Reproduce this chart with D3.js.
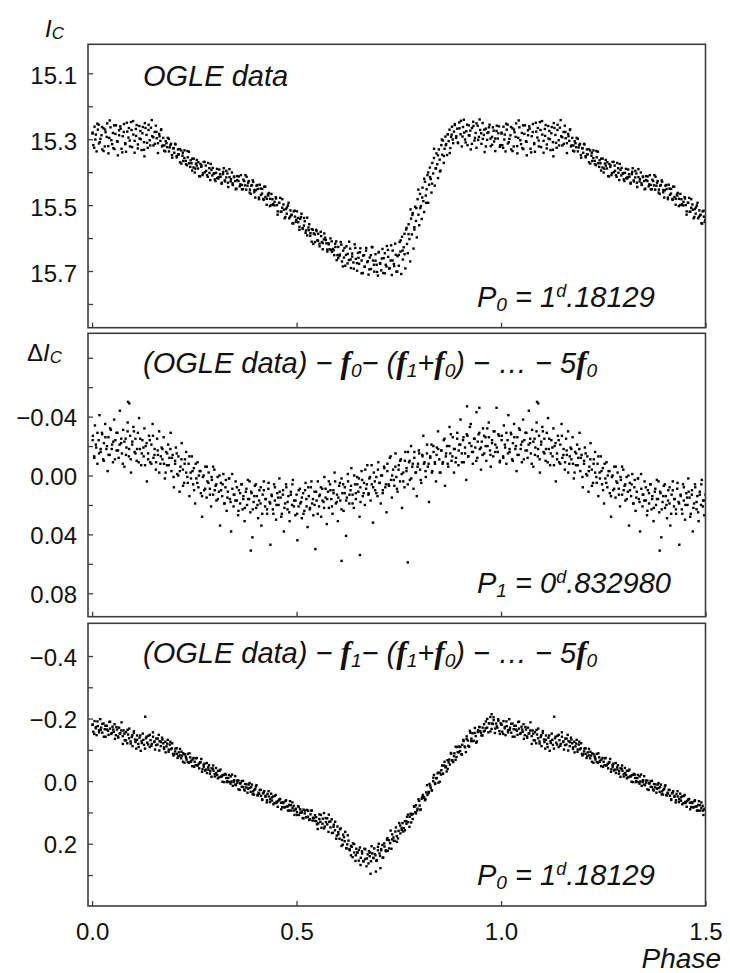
<!DOCTYPE html>
<html>
<head>
<meta charset="utf-8">

<style>
    body { margin: 0; background: #fff; }
    svg text { font-family: "Liberation Sans", Arial, sans-serif; fill: #111; white-space: pre; }
    rect.frame { fill: none; stroke: #3c3c3c; stroke-width: 1.6px; }
    .axis line { stroke: #3c3c3c; stroke-width: 1.3px; }
    rect.dot { fill: #000; }
</style>

<script src="https://d3js.org/d3.v7.min.js"></script>

</head>
<body>

<script>

    // OGLE I-band light curve folded with P0, [phase, mag]
    var ogleData = [
      [0.001,15.283],[0.003,15.318],[0.006,15.262],[0.008,15.301],[0.011,15.337],[0.014,15.271],[0.016,15.256],[0.019,15.309],[0.023,15.288],[0.025,15.331],
      [0.028,15.267],[0.031,15.322],[0.033,15.279],[0.037,15.252],[0.040,15.343],[0.042,15.296],[0.045,15.264],[0.049,15.315],[0.052,15.327],[0.054,15.258],
      [0.057,15.284],[0.061,15.306],[0.063,15.349],[0.066,15.273],[0.069,15.261],[0.072,15.329],[0.075,15.291],[0.078,15.254],[0.081,15.312],[0.083,15.338],
      [0.086,15.277],[0.090,15.266],[0.092,15.304],[0.095,15.248],[0.098,15.324],[0.101,15.286],[0.104,15.341],[0.107,15.269],[0.109,15.257],[0.112,15.316],
      [0.116,15.298],[0.118,15.275],[0.121,15.333],[0.124,15.263],[0.127,15.309],[0.128,15.352],[0.129,15.251],[0.133,15.287],[0.136,15.326],[0.138,15.272],
      [0.141,15.303],[0.144,15.265],[0.147,15.291],[0.150,15.319],[0.153,15.278],[0.156,15.259],[0.158,15.297],[0.161,15.312],[0.164,15.284],[0.167,15.305],
      [0.169,15.270],[0.171,15.322],[0.174,15.296],[0.177,15.319],[0.179,15.337],[0.182,15.312],[0.185,15.296],[0.188,15.337],[0.190,15.325],[0.193,15.314],
      [0.196,15.356],[0.199,15.327],[0.201,15.341],[0.204,15.316],[0.207,15.355],[0.210,15.331],[0.212,15.346],[0.215,15.370],[0.218,15.334],[0.221,15.350],
      [0.223,15.366],[0.226,15.334],[0.229,15.366],[0.232,15.379],[0.234,15.355],[0.237,15.338],[0.240,15.384],[0.243,15.373],[0.245,15.359],[0.248,15.386],
      [0.251,15.401],[0.254,15.374],[0.256,15.363],[0.259,15.389],[0.262,15.412],[0.265,15.375],[0.267,15.384],[0.270,15.409],[0.273,15.369],[0.276,15.400],
      [0.278,15.380],[0.281,15.409],[0.284,15.372],[0.287,15.402],[0.289,15.424],[0.292,15.393],[0.295,15.387],[0.298,15.404],[0.300,15.422],[0.303,15.402],
      [0.306,15.418],[0.309,15.419],[0.311,15.392],[0.314,15.414],[0.317,15.432],[0.320,15.406],[0.322,15.388],[0.325,15.428],[0.328,15.416],[0.331,15.404],
      [0.333,15.445],[0.336,15.415],[0.339,15.428],[0.342,15.401],[0.344,15.439],[0.347,15.413],[0.350,15.427],[0.353,15.450],[0.355,15.412],[0.358,15.427],
      [0.361,15.443],[0.364,15.409],[0.366,15.439],[0.369,15.452],[0.372,15.427],[0.375,15.409],[0.377,15.453],[0.380,15.441],[0.383,15.427],[0.386,15.453],
      [0.388,15.466],[0.391,15.439],[0.394,15.429],[0.397,15.454],[0.399,15.477],[0.402,15.441],[0.405,15.451],[0.408,15.477],[0.410,15.438],[0.413,15.469],
      [0.416,15.451],[0.419,15.481],[0.421,15.444],[0.424,15.475],[0.427,15.499],[0.430,15.468],[0.432,15.463],[0.435,15.481],[0.438,15.500],[0.441,15.482],
      [0.443,15.499],[0.446,15.501],[0.449,15.476],[0.452,15.500],[0.454,15.519],[0.457,15.493],[0.460,15.478],[0.463,15.520],[0.465,15.508],[0.468,15.498],
      [0.471,15.540],[0.474,15.512],[0.476,15.526],[0.479,15.501],[0.482,15.540],[0.485,15.516],[0.487,15.531],[0.490,15.555],[0.493,15.519],[0.496,15.535],
      [0.498,15.551],[0.501,15.519],[0.504,15.552],[0.507,15.566],[0.509,15.542],[0.512,15.526],[0.515,15.572],[0.518,15.562],[0.520,15.549],[0.523,15.577],
      [0.526,15.592],[0.529,15.568],[0.531,15.558],[0.534,15.585],[0.537,15.611],[0.540,15.575],[0.542,15.586],[0.545,15.612],[0.548,15.575],[0.551,15.607],
      [0.553,15.587],[0.556,15.617],[0.559,15.581],[0.562,15.612],[0.564,15.634],[0.567,15.604],[0.570,15.599],[0.573,15.616],[0.575,15.635],[0.578,15.616],
      [0.581,15.634],[0.584,15.636],[0.586,15.610],[0.589,15.633],[0.592,15.652],[0.595,15.627],[0.597,15.610],[0.600,15.652],[0.602,15.627],[0.605,15.654],
      [0.608,15.612],[0.611,15.671],[0.614,15.638],[0.616,15.659],[0.619,15.684],[0.622,15.625],[0.625,15.648],[0.628,15.667],[0.631,15.632],[0.633,15.691],
      [0.636,15.656],[0.639,15.674],[0.642,15.619],[0.645,15.663],[0.648,15.699],[0.650,15.645],[0.653,15.678],[0.656,15.631],[0.659,15.668],[0.662,15.706],
      [0.665,15.652],[0.667,15.687],[0.670,15.638],[0.673,15.673],[0.676,15.711],[0.679,15.659],[0.682,15.694],[0.684,15.627],[0.687,15.668],[0.690,15.702],
      [0.693,15.649],[0.696,15.681],[0.699,15.714],[0.701,15.642],[0.704,15.676],[0.707,15.698],[0.710,15.633],[0.713,15.661],[0.716,15.707],[0.718,15.681],
      [0.721,15.624],[0.724,15.657],[0.727,15.693],[0.730,15.668],[0.733,15.712],[0.735,15.638],[0.738,15.679],[0.741,15.617],[0.744,15.702],[0.747,15.655],
      [0.750,15.684],[0.752,15.612],[0.754,15.641],[0.756,15.709],[0.758,15.596],[0.760,15.665],[0.762,15.628],[0.764,15.587],[0.766,15.692],[0.768,15.574],
      [0.770,15.618],[0.772,15.646],[0.774,15.558],[0.776,15.603],[0.778,15.671],[0.780,15.541],[0.782,15.589],[0.784,15.524],[0.786,15.632],[0.788,15.567],
      [0.790,15.505],[0.792,15.548],[0.794,15.598],[0.796,15.482],[0.798,15.529],[0.800,15.561],[0.802,15.466],[0.804,15.503],[0.806,15.542],[0.808,15.447],
      [0.810,15.488],[0.812,15.521],[0.814,15.429],[0.816,15.471],[0.818,15.452],[0.820,15.409],[0.822,15.493],[0.824,15.438],[0.826,15.386],[0.828,15.421],
      [0.830,15.462],[0.832,15.372],[0.834,15.404],[0.836,15.357],[0.838,15.441],[0.840,15.389],[0.842,15.343],[0.844,15.376],[0.846,15.418],[0.848,15.331],
      [0.850,15.362],[0.852,15.395],[0.854,15.318],[0.856,15.347],[0.858,15.304],[0.860,15.372],[0.862,15.329],[0.864,15.292],[0.866,15.315],[0.868,15.348],
      [0.870,15.285],[0.872,15.306],[0.874,15.271],[0.876,15.327],[0.878,15.293],[0.880,15.262],[0.882,15.301],[0.885,15.277],[0.887,15.254],[0.890,15.296],
      [0.893,15.268],[0.895,15.312],[0.898,15.249],[0.901,15.285],[0.904,15.322],[0.907,15.263],[0.909,15.241],[0.912,15.301],[0.915,15.276],[0.918,15.318],
      [0.921,15.258],[0.923,15.289],[0.926,15.331],[0.929,15.266],[0.932,15.247],[0.935,15.304],[0.938,15.281],[0.940,15.326],[0.943,15.259],[0.946,15.293],
      [0.949,15.272],[0.952,15.314],[0.955,15.251],[0.958,15.287],[0.960,15.339],[0.963,15.268],[0.966,15.302],[0.969,15.279],[0.972,15.256],[0.975,15.321],
      [0.978,15.293],[0.980,15.264],[0.983,15.307],[0.986,15.336],[0.989,15.275],[0.992,15.298],[0.995,15.261],[0.998,15.318]
    ];

    // second OGLE season, same fold
    var ogleMore = [
      [0.0015,15.280],[0.0052,15.326],[0.0091,15.286],[0.0128,15.253],[0.0167,15.313],[0.0204,15.299],[0.0243,15.263],[0.0281,15.336],[0.0318,15.271],[0.0357,15.293],
      [0.0395,15.321],[0.0432,15.243],[0.0471,15.303],[0.0509,15.281],[0.0546,15.330],[0.0585,15.258],[0.0623,15.308],[0.0661,15.288],[0.0698,15.268],[0.0737,15.340],
      [0.0775,15.278],[0.0812,15.315],[0.0851,15.250],[0.0889,15.295],[0.0926,15.322],[0.0965,15.272],[0.1003,15.245],[0.1041,15.305],[0.1078,15.290],[0.1117,15.328],
      [0.1155,15.260],[0.1192,15.300],[0.1231,15.282],[0.1269,15.332],[0.1306,15.266],[0.1345,15.311],[0.1383,15.256],[0.1421,15.319],[0.1458,15.242],[0.1497,15.294],
      [0.1535,15.314],[0.1572,15.278],[0.1611,15.342],[0.1649,15.291],[0.1686,15.272],[0.1725,15.319],[0.1763,15.335],[0.1802,15.306],[0.1839,15.324],[0.1877,15.299],
      [0.1916,15.318],[0.1953,15.348],[0.1991,15.328],[0.2029,15.314],[0.2068,15.351],[0.2105,15.346],[0.2143,15.330],[0.2182,15.374],[0.2219,15.341],[0.2257,15.357],
      [0.2296,15.376],[0.2333,15.336],[0.2371,15.373],[0.2410,15.364],[0.2447,15.395],[0.2485,15.359],[0.2524,15.389],[0.2561,15.380],[0.2599,15.370],[0.2638,15.413],
      [0.2675,15.380],[0.2713,15.403],[0.2752,15.369],[0.2789,15.396],[0.2827,15.414],[0.2866,15.388],[0.2903,15.375],[0.2941,15.410],[0.2980,15.404],[0.3017,15.427],
      [0.3055,15.390],[0.3094,15.415],[0.3131,15.406],[0.3169,15.435],[0.3208,15.399],[0.3245,15.425],[0.3283,15.396],[0.3322,15.432],[0.3359,15.391],[0.3397,15.421],
      [0.3436,15.434],[0.3473,15.415],[0.3511,15.452],[0.3550,15.424],[0.3587,15.413],[0.3625,15.437],[0.3664,15.452],[0.3701,15.423],[0.3739,15.440],[0.3778,15.414],
      [0.3815,15.432],[0.3853,15.462],[0.3892,15.441],[0.3929,15.425],[0.3967,15.461],[0.4006,15.455],[0.4043,15.439],[0.4081,15.482],[0.4120,15.450],[0.4157,15.465],
      [0.4195,15.484],[0.4234,15.444],[0.4271,15.481],[0.4309,15.471],[0.4348,15.503],[0.4385,15.466],[0.4423,15.497],[0.4462,15.490],[0.4499,15.480],[0.4537,15.529],
      [0.4576,15.493],[0.4613,15.520],[0.4651,15.482],[0.4690,15.514],[0.4727,15.536],[0.4765,15.507],[0.4804,15.493],[0.4841,15.535],[0.4879,15.529],[0.4918,15.556],
      [0.4955,15.517],[0.4993,15.545],[0.5032,15.539],[0.5069,15.575],[0.5107,15.536],[0.5146,15.570],[0.5183,15.539],[0.5221,15.584],[0.5260,15.538],[0.5297,15.576],
      [0.5335,15.593],[0.5374,15.573],[0.5411,15.618],[0.5449,15.589],[0.5488,15.579],[0.5525,15.608],[0.5563,15.625],[0.5602,15.594],[0.5639,15.615],[0.5677,15.586],
      [0.5716,15.606],[0.5753,15.641],[0.5791,15.619],[0.5830,15.601],[0.5867,15.642],[0.5905,15.637],[0.5944,15.617],[0.5981,15.667],[0.6019,15.661],[0.6058,15.650],
      [0.6095,15.620],[0.6133,15.686],[0.6172,15.630],[0.6209,15.651],[0.6247,15.677],[0.6286,15.611],[0.6323,15.665],[0.6361,15.647],[0.6400,15.693],[0.6437,15.630],
      [0.6475,15.676],[0.6514,15.660],[0.6551,15.643],[0.6589,15.707],[0.6628,15.653],[0.6665,15.687],[0.6703,15.630],[0.6742,15.670],[0.6779,15.695],[0.6817,15.652],
      [0.6856,15.628],[0.6893,15.681],[0.6931,15.669],[0.6970,15.703],[0.7007,15.644],[0.7045,15.678],[0.7084,15.662],[0.7121,15.706],[0.7159,15.646],[0.7198,15.686],
      [0.7235,15.636],[0.7273,15.691],[0.7312,15.622],[0.7349,15.668],[0.7387,15.685],[0.7426,15.651],[0.7463,15.702],[0.7501,15.651],[0.7545,15.607],[0.7593,15.638],
      [0.7642,15.649],[0.7689,15.569],[0.7738,15.588],[0.7786,15.513],[0.7833,15.530],[0.7882,15.574],[0.7929,15.509],[0.7978,15.453],[0.8026,15.509],[0.8073,15.477],
      [0.8122,15.420],[0.8169,15.493],[0.8218,15.401],[0.8266,15.415],[0.8313,15.435],[0.8362,15.329],[0.8409,15.388],[0.8458,15.349],[0.8506,15.398],[0.8553,15.301],
      [0.8602,15.351],[0.8649,15.318],[0.8698,15.285],[0.8746,15.342],[0.8793,15.286],[0.8831,15.312],[0.8870,15.257],[0.8907,15.291],[0.8945,15.310],[0.8984,15.267],
      [0.9021,15.244],[0.9059,15.292],[0.9098,15.280],[0.9135,15.310],[0.9173,15.256],[0.9212,15.288],[0.9249,15.274],[0.9287,15.314],[0.9326,15.260],[0.9363,15.296],
      [0.9401,15.252],[0.9440,15.302],[0.9477,15.240],[0.9515,15.282],[0.9554,15.299],[0.9591,15.271],[0.9629,15.322],[0.9668,15.281],[0.9705,15.264],[0.9743,15.298],
      [0.9782,15.317],[0.9819,15.274],[0.9857,15.298],[0.9896,15.259],[0.9933,15.282],[0.9971,15.323]
    ];

    // residuals after removing f0 and combinations, folded with P1, [phase, dI]
    var resid1Data = [
      [0.002,-0.027],[0.005,-0.013],[0.007,-0.034],[0.010,-0.019],[0.013,-0.008],[0.016,-0.024],[0.018,-0.041],[0.021,-0.016],[0.024,-0.029],[0.027,-0.011],
      [0.029,-0.022],[0.032,-0.035],[0.035,-0.018],[0.038,-0.003],[0.040,-0.026],[0.043,-0.014],[0.046,-0.031],[0.049,-0.021],[0.051,-0.009],[0.054,-0.038],
      [0.057,-0.024],[0.060,-0.017],[0.062,-0.029],[0.065,-0.012],[0.068,-0.044],[0.071,-0.022],[0.073,-0.015],[0.076,-0.031],[0.079,-0.006],[0.082,-0.025],
      [0.084,-0.019],[0.087,-0.036],[0.088,-0.050],[0.090,-0.013],[0.091,-0.049],[0.093,-0.027],[0.095,-0.002],[0.098,-0.021],[0.101,-0.033],[0.104,-0.016],
      [0.106,-0.025],[0.109,-0.010],[0.112,-0.029],[0.115,-0.039],[0.117,-0.018],[0.120,-0.007],[0.123,-0.024],[0.126,-0.013],[0.128,-0.032],[0.131,-0.020],
      [0.134,0.004],[0.137,-0.015],[0.139,-0.027],[0.142,-0.009],[0.145,-0.021],[0.148,-0.035],[0.150,-0.012],[0.153,-0.018],[0.156,-0.004],[0.159,-0.025],
      [0.161,-0.014],[0.164,-0.030],[0.167,-0.008],[0.170,-0.019],[0.172,-0.011],[0.175,-0.026],[0.178,0.002],[0.181,-0.016],[0.183,-0.007],[0.186,-0.021],
      [0.189,-0.012],[0.192,-0.029],[0.194,-0.003],[0.197,-0.014],[0.200,0.008],[0.203,-0.010],[0.205,-0.019],[0.208,-0.001],[0.211,-0.013],[0.214,0.011],
      [0.216,-0.006],[0.219,-0.022],[0.222,-0.004],[0.225,0.005],[0.227,-0.011],[0.230,-0.016],[0.233,0.001],[0.236,-0.008],[0.238,0.014],[0.241,-0.002],
      [0.244,-0.013],[0.247,0.006],[0.249,-0.005],[0.252,0.019],[0.255,0.002],[0.258,-0.009],[0.260,0.008],[0.263,-0.003],[0.266,0.012],[0.269,0.028],
      [0.271,0.001],[0.274,0.010],[0.277,-0.006],[0.280,0.015],[0.282,0.004],[0.285,-0.002],[0.288,0.009],[0.291,0.021],[0.293,0.003],[0.296,0.013],
      [0.299,-0.004],[0.302,0.007],[0.304,0.017],[0.307,0.001],[0.310,0.011],[0.313,0.034],[0.315,0.005],[0.318,0.014],[0.321,-0.001],[0.324,0.019],
      [0.326,0.008],[0.329,0.024],[0.332,0.011],[0.335,0.002],[0.337,0.016],[0.340,0.038],[0.343,0.009],[0.346,0.021],[0.348,0.013],[0.351,0.004],
      [0.354,0.017],[0.357,0.027],[0.359,0.010],[0.362,0.019],[0.365,0.006],[0.368,0.023],[0.370,0.014],[0.373,0.031],[0.376,0.011],[0.379,0.020],
      [0.381,0.003],[0.384,0.016],[0.387,0.025],[0.388,0.051],[0.390,0.012],[0.392,0.042],[0.395,0.018],[0.398,0.007],[0.401,0.022],[0.403,0.014],
      [0.406,0.029],[0.409,0.010],[0.412,0.019],[0.414,0.034],[0.417,0.013],[0.420,0.004],[0.423,0.021],[0.425,0.016],[0.428,0.026],[0.431,0.009],
      [0.434,0.018],[0.436,0.047],[0.439,0.013],[0.442,0.023],[0.445,0.006],[0.447,0.017],[0.450,0.030],[0.453,0.012],[0.456,0.020],[0.458,0.002],
      [0.461,0.015],[0.464,0.026],[0.467,0.010],[0.469,0.038],[0.472,0.019],[0.475,0.008],[0.478,0.023],[0.480,0.014],[0.483,0.031],[0.486,0.011],
      [0.489,0.020],[0.491,0.003],[0.494,0.017],[0.497,0.027],[0.500,0.013],[0.502,0.044],[0.505,0.021],[0.508,0.009],[0.511,0.018],[0.513,0.029],
      [0.516,0.012],[0.519,0.024],[0.522,0.005],[0.524,0.016],[0.527,0.035],[0.530,0.014],[0.533,0.022],[0.535,0.008],[0.538,0.019],[0.541,0.027],
      [0.544,0.011],[0.546,0.050],[0.549,0.017],[0.552,0.004],[0.555,0.021],[0.557,0.013],[0.560,0.028],[0.563,0.009],[0.566,0.018],[0.568,0.001],
      [0.571,0.015],[0.574,0.033],[0.577,0.011],[0.579,0.022],[0.582,0.006],[0.585,0.016],[0.588,0.026],[0.590,0.010],[0.593,-0.002],[0.596,0.019],
      [0.599,0.013],[0.601,0.031],[0.604,0.007],[0.607,0.017],[0.610,0.058],[0.610,0.002],[0.612,0.012],[0.615,0.024],[0.618,0.008],[0.621,0.041],
      [0.623,0.015],[0.626,0.004],[0.629,0.019],[0.632,0.010],[0.634,-0.005],[0.637,0.013],[0.640,0.022],[0.643,0.006],[0.645,0.016],[0.648,0.001],
      [0.651,0.011],[0.654,0.028],[0.655,0.054],[0.656,0.008],[0.659,-0.003],[0.662,0.014],[0.665,0.005],[0.667,0.020],[0.670,0.009],[0.673,-0.007],
      [0.676,0.012],[0.678,0.002],[0.681,0.017],[0.684,0.006],[0.687,0.032],[0.689,-0.002],[0.692,0.010],[0.695,0.001],[0.698,0.014],[0.700,-0.009],
      [0.703,0.005],[0.706,0.019],[0.709,0.000],[0.711,0.010],[0.714,-0.006],[0.717,0.008],[0.720,0.025],[0.722,-0.003],[0.725,0.006],[0.728,-0.012],
      [0.731,0.003],[0.733,0.015],[0.736,-0.004],[0.739,0.007],[0.742,-0.015],[0.744,0.001],[0.747,0.011],[0.750,-0.007],[0.753,0.004],[0.755,-0.011],
      [0.758,0.022],[0.761,-0.002],[0.764,0.008],[0.766,-0.016],[0.769,-0.005],[0.772,0.059],[0.772,0.006],[0.775,-0.009],[0.777,0.003],[0.780,-0.020],
      [0.783,-0.006],[0.786,0.009],[0.788,-0.012],[0.791,-0.002],[0.794,0.014],[0.797,-0.008],[0.799,-0.017],[0.802,-0.004],[0.805,0.005],[0.808,-0.013],
      [0.810,-0.027],[0.813,-0.009],[0.816,0.001],[0.819,-0.015],[0.821,-0.006],[0.824,0.018],[0.827,-0.012],[0.830,-0.021],[0.832,-0.003],[0.835,-0.016],
      [0.838,-0.009],[0.841,0.004],[0.843,-0.019],[0.846,-0.030],[0.849,-0.011],[0.852,-0.002],[0.854,-0.017],[0.857,-0.008],[0.860,-0.024],[0.863,0.007],
      [0.865,-0.013],[0.868,-0.020],[0.871,-0.006],[0.874,-0.033],[0.876,-0.015],[0.879,-0.010],[0.882,-0.026],[0.885,-0.002],[0.887,-0.018],[0.890,-0.012],
      [0.893,-0.029],[0.896,-0.007],[0.898,-0.021],[0.901,-0.038],[0.904,-0.015],[0.907,-0.024],[0.909,-0.009],[0.912,-0.019],[0.915,0.003],[0.917,-0.047],
      [0.918,-0.027],[0.920,-0.013],[0.923,-0.022],[0.926,-0.035],[0.929,-0.016],[0.931,-0.008],[0.934,-0.025],[0.937,-0.019],[0.940,-0.043],[0.942,-0.012],
      [0.945,-0.028],[0.947,-0.046],[0.948,-0.018],[0.951,-0.004],[0.953,-0.023],[0.956,-0.032],[0.959,-0.015],[0.962,-0.026],[0.964,-0.010],[0.967,-0.020],
      [0.970,-0.036],[0.973,-0.017],[0.975,-0.006],[0.978,-0.024],[0.981,-0.013],[0.984,-0.030],[0.986,-0.021],[0.989,-0.046],[0.992,-0.016],[0.995,-0.027],
      [0.997,-0.009]
    ];

    var resid1More = [
      [0.0015,-0.024],[0.0054,-0.012],[0.0093,-0.021],[0.0131,-0.029],[0.0170,-0.015],[0.0209,-0.018],[0.0248,-0.028],[0.0286,-0.010],[0.0325,-0.026],[0.0364,-0.020],
      [0.0403,-0.014],[0.0441,-0.032],[0.0480,-0.018],[0.0519,-0.023],[0.0558,-0.011],[0.0596,-0.029],[0.0635,-0.017],[0.0674,-0.021],[0.0713,-0.025],[0.0751,-0.008],
      [0.0790,-0.023],[0.0829,-0.014],[0.0868,-0.030],[0.0906,-0.018],[0.0945,-0.011],[0.0984,-0.023],[0.1023,-0.030],[0.1061,-0.015],[0.1100,-0.018],[0.1139,-0.009],
      [0.1178,-0.025],[0.1216,-0.015],[0.1255,-0.019],[0.1294,-0.007],[0.1333,-0.022],[0.1371,-0.011],[0.1410,-0.024],[0.1449,-0.008],[0.1488,-0.027],[0.1526,-0.014],
      [0.1565,-0.009],[0.1604,-0.017],[0.1643,-0.002],[0.1681,-0.013],[0.1720,-0.018],[0.1759,-0.008],[0.1798,-0.002],[0.1836,-0.015],[0.1875,-0.007],[0.1914,-0.018],
      [0.1953,-0.012],[0.1991,0.001],[0.2030,-0.008],[0.2069,-0.015],[0.2108,0.000],[0.2146,-0.003],[0.2185,-0.011],[0.2224,0.007],[0.2263,-0.008],[0.2301,-0.002],
      [0.2340,0.005],[0.2379,-0.013],[0.2418,0.002],[0.2456,-0.003],[0.2495,0.010],[0.2534,-0.008],[0.2573,0.005],[0.2611,0.000],[0.2650,-0.003],[0.2689,0.014],
      [0.2728,0.000],[0.2766,0.009],[0.2805,-0.006],[0.2844,0.005],[0.2883,0.013],[0.2921,0.001],[0.2960,-0.006],[0.2999,0.010],[0.3038,0.006],[0.3076,0.016],
      [0.3115,0.000],[0.3154,0.010],[0.3193,0.006],[0.3231,0.019],[0.3270,0.003],[0.3309,0.015],[0.3348,0.002],[0.3386,0.018],[0.3425,-0.001],[0.3464,0.013],
      [0.3503,0.017],[0.3541,0.008],[0.3580,0.024],[0.3619,0.012],[0.3658,0.006],[0.3696,0.016],[0.3735,0.022],[0.3774,0.009],[0.3813,0.016],[0.3851,0.004],
      [0.3890,0.011],[0.3929,0.023],[0.3968,0.014],[0.4006,0.006],[0.4045,0.020],[0.4084,0.017],[0.4123,0.008],[0.4161,0.026],[0.4200,0.010],[0.4239,0.016],
      [0.4278,0.023],[0.4316,0.005],[0.4355,0.019],[0.4394,0.014],[0.4433,0.026],[0.4471,0.008],[0.4510,0.020],[0.4549,0.015],[0.4588,0.011],[0.4626,0.028],
      [0.4665,0.013],[0.4704,0.022],[0.4743,0.006],[0.4781,0.018],[0.4820,0.025],[0.4859,0.013],[0.4898,0.006],[0.4936,0.021],[0.4975,0.017],[0.5014,0.026],
      [0.5053,0.010],[0.5091,0.019],[0.5130,0.015],[0.5169,0.026],[0.5208,0.010],[0.5246,0.021],[0.5285,0.008],[0.5324,0.023],[0.5363,0.004],[0.5401,0.016],
      [0.5440,0.020],[0.5479,0.011],[0.5518,0.026],[0.5556,0.014],[0.5595,0.008],[0.5634,0.017],[0.5673,0.022],[0.5711,0.009],[0.5750,0.016],[0.5789,0.004],
      [0.5828,0.010],[0.5866,0.021],[0.5905,0.012],[0.5944,0.004],[0.5983,0.018],[0.6021,0.015],[0.6060,0.005],[0.6099,0.023],[0.6138,0.006],[0.6176,0.012],
      [0.6215,0.017],[0.6254,-0.001],[0.6293,0.013],[0.6331,0.007],[0.6370,0.019],[0.6409,0.000],[0.6448,0.012],[0.6486,0.006],[0.6525,0.002],[0.6564,0.018],
      [0.6603,0.003],[0.6641,0.012],[0.6680,-0.004],[0.6719,0.006],[0.6758,0.013],[0.6796,0.001],[0.6835,-0.007],[0.6874,0.008],[0.6913,0.004],[0.6951,0.012],
      [0.6990,-0.004],[0.7029,0.005],[0.7068,0.000],[0.7106,0.012],[0.7145,-0.005],[0.7184,0.006],[0.7223,-0.008],[0.7261,0.007],[0.7300,-0.013],[0.7339,0.000],
      [0.7378,0.003],[0.7416,-0.006],[0.7455,0.009],[0.7494,-0.004],[0.7533,-0.010],[0.7571,-0.001],[0.7610,0.004],[0.7649,-0.010],[0.7688,-0.003],[0.7726,-0.016],
      [0.7765,-0.010],[0.7804,0.002],[0.7843,-0.008],[0.7881,-0.016],[0.7920,-0.002],[0.7959,-0.006],[0.7998,-0.015],[0.8036,0.003],[0.8075,-0.014],[0.8114,-0.008],
      [0.8153,-0.003],[0.8191,-0.021],[0.8230,-0.008],[0.8269,-0.013],[0.8308,-0.002],[0.8346,-0.020],[0.8385,-0.008],[0.8424,-0.014],[0.8463,-0.018],[0.8501,-0.002],
      [0.8540,-0.017],[0.8579,-0.009],[0.8618,-0.025],[0.8656,-0.015],[0.8695,-0.008],[0.8734,-0.020],[0.8773,-0.028],[0.8811,-0.013],[0.8850,-0.018],[0.8889,-0.009],
      [0.8928,-0.025],[0.8966,-0.017],[0.9005,-0.021],[0.9044,-0.009],[0.9083,-0.026],[0.9121,-0.015],[0.9160,-0.028],[0.9199,-0.013],[0.9238,-0.033],[0.9276,-0.020],
      [0.9315,-0.016],[0.9354,-0.025],[0.9393,-0.010],[0.9431,-0.023],[0.9470,-0.029],[0.9509,-0.019],[0.9548,-0.014],[0.9586,-0.027],[0.9625,-0.020],[0.9664,-0.032],
      [0.9703,-0.026],[0.9741,-0.014],[0.9780,-0.022],[0.9819,-0.030],[0.9858,-0.016],[0.9896,-0.019],[0.9935,-0.028],[0.9974,-0.010]
    ];

    // residuals after removing f1 and combinations, folded with P0, [phase, dI]
    var resid0Data = [
      [0.001,-0.181],[0.003,-0.158],[0.006,-0.192],[0.009,-0.169],[0.011,-0.147],[0.014,-0.176],[0.017,-0.163],[0.020,-0.198],[0.022,-0.171],[0.025,-0.155],
      [0.028,-0.184],[0.031,-0.166],[0.033,-0.142],[0.036,-0.177],[0.039,-0.161],[0.042,-0.189],[0.044,-0.168],[0.047,-0.151],[0.050,-0.174],[0.053,-0.158],
      [0.055,-0.182],[0.058,-0.147],[0.061,-0.165],[0.064,-0.139],[0.066,-0.171],[0.069,-0.153],[0.072,-0.188],[0.075,-0.144],[0.077,-0.162],[0.080,-0.131],
      [0.083,-0.157],[0.086,-0.121],[0.088,-0.149],[0.091,-0.168],[0.094,-0.127],[0.097,-0.141],[0.099,-0.112],[0.102,-0.154],[0.105,-0.133],[0.108,-0.104],
      [0.110,-0.146],[0.113,-0.119],[0.116,-0.139],[0.119,-0.097],[0.121,-0.128],[0.124,-0.152],[0.127,-0.116],[0.130,-0.206],[0.132,-0.137],[0.135,-0.123],
      [0.138,-0.145],[0.141,-0.109],[0.143,-0.131],[0.146,-0.119],[0.149,-0.142],[0.152,-0.125],[0.154,-0.101],[0.157,-0.136],[0.160,-0.117],[0.163,-0.148],
      [0.165,-0.128],[0.168,-0.112],[0.171,-0.139],[0.174,-0.121],[0.176,-0.103],[0.179,-0.126],[0.182,-0.111],[0.185,-0.132],[0.187,-0.094],[0.190,-0.117],
      [0.193,-0.102],[0.196,-0.121],[0.198,-0.087],[0.201,-0.086],[0.204,-0.104],[0.207,-0.087],[0.209,-0.074],[0.212,-0.092],[0.215,-0.103],[0.218,-0.073],
      [0.220,-0.082],[0.223,-0.089],[0.226,-0.059],[0.229,-0.079],[0.231,-0.069],[0.234,-0.087],[0.237,-0.059],[0.240,-0.076],[0.242,-0.065],[0.245,-0.048],
      [0.248,-0.074],[0.251,-0.062],[0.253,-0.051],[0.256,-0.074],[0.259,-0.051],[0.262,-0.041],[0.264,-0.059],[0.267,-0.071],[0.270,-0.038],[0.273,-0.046],
      [0.275,-0.056],[0.278,-0.037],[0.281,-0.026],[0.284,-0.044],[0.286,-0.051],[0.289,-0.032],[0.292,-0.014],[0.295,-0.040],[0.297,-0.033],[0.300,-0.015],
      [0.303,-0.042],[0.306,-0.019],[0.308,-0.033],[0.311,-0.012],[0.314,-0.037],[0.317,-0.015],[0.319,0.002],[0.322,-0.020],[0.325,-0.023],[0.328,-0.010],
      [0.330,0.003],[0.333,-0.010],[0.336,0.003],[0.339,-0.015],[0.341,0.001],[0.344,0.015],[0.347,-0.003],[0.350,-0.016],[0.352,0.013],[0.355,0.005],
      [0.358,-0.002],[0.361,0.028],[0.363,0.007],[0.366,0.018],[0.369,-0.001],[0.372,0.027],[0.374,0.009],[0.377,0.020],[0.380,0.037],[0.383,0.011],
      [0.385,0.022],[0.388,0.034],[0.391,0.011],[0.394,0.033],[0.396,0.043],[0.399,0.025],[0.402,0.013],[0.405,0.046],[0.407,0.037],[0.410,0.028],
      [0.413,0.047],[0.416,0.058],[0.418,0.039],[0.421,0.032],[0.424,0.050],[0.427,0.068],[0.429,0.041],[0.432,0.049],[0.435,0.067],[0.438,0.040],
      [0.440,0.062],[0.443,0.049],[0.446,0.070],[0.449,0.044],[0.451,0.066],[0.454,0.082],[0.457,0.060],[0.460,0.057],[0.462,0.069],[0.465,0.083],
      [0.468,0.070],[0.471,0.083],[0.473,0.064],[0.476,0.081],[0.479,0.094],[0.482,0.076],[0.484,0.064],[0.487,0.094],[0.490,0.086],[0.493,0.079],
      [0.495,0.108],[0.498,0.088],[0.501,0.099],[0.504,0.080],[0.506,0.108],[0.509,0.090],[0.512,0.101],[0.515,0.118],[0.517,0.091],[0.520,0.103],
      [0.523,0.115],[0.526,0.092],[0.528,0.114],[0.531,0.124],[0.534,0.106],[0.537,0.094],[0.539,0.126],[0.542,0.118],[0.545,0.109],[0.548,0.128],
      [0.550,0.138],[0.553,0.135],[0.556,0.106],[0.558,0.130],[0.561,0.149],[0.564,0.120],[0.567,0.102],[0.569,0.145],[0.572,0.131],[0.575,0.119],
      [0.578,0.162],[0.580,0.130],[0.583,0.148],[0.586,0.122],[0.589,0.165],[0.591,0.139],[0.594,0.157],[0.597,0.184],[0.600,0.145],[0.602,0.163],
      [0.605,0.184],[0.608,0.151],[0.611,0.188],[0.613,0.203],[0.616,0.179],[0.619,0.162],[0.622,0.214],[0.624,0.202],[0.627,0.190],[0.630,0.221],
      [0.633,0.237],[0.635,0.210],[0.638,0.199],[0.641,0.228],[0.644,0.255],[0.646,0.216],[0.649,0.228],[0.652,0.254],[0.655,0.212],[0.657,0.245],
      [0.660,0.224],[0.663,0.255],[0.666,0.216],[0.668,0.249],[0.671,0.272],[0.674,0.234],[0.677,0.224],[0.679,0.240],[0.681,0.296],[0.682,0.256],
      [0.685,0.231],[0.688,0.246],[0.690,0.215],[0.693,0.237],[0.694,0.289],[0.696,0.252],[0.699,0.221],[0.701,0.200],[0.704,0.239],[0.705,0.278],
      [0.707,0.221],[0.710,0.204],[0.712,0.244],[0.715,0.209],[0.718,0.221],[0.721,0.187],[0.723,0.223],[0.726,0.189],[0.729,0.198],[0.732,0.216],
      [0.734,0.170],[0.737,0.180],[0.740,0.191],[0.743,0.148],[0.745,0.176],[0.748,0.183],[0.751,0.134],[0.754,0.167],[0.757,0.150],[0.759,0.134],
      [0.762,0.150],[0.765,0.157],[0.768,0.128],[0.770,0.114],[0.773,0.131],[0.776,0.146],[0.779,0.104],[0.781,0.108],[0.784,0.121],[0.787,0.080],
      [0.790,0.099],[0.792,0.077],[0.795,0.094],[0.798,0.058],[0.801,0.078],[0.803,0.092],[0.806,0.056],[0.809,0.044],[0.812,0.051],[0.814,0.061],
      [0.817,0.036],[0.820,0.044],[0.823,0.038],[0.825,0.009],[0.828,0.021],[0.831,0.029],[0.834,0.000],[0.836,-0.020],[0.839,0.009],[0.842,-0.009],
      [0.845,-0.025],[0.847,0.005],[0.850,-0.027],[0.853,-0.021],[0.856,-0.050],[0.858,-0.023],[0.861,-0.050],[0.864,-0.044],[0.867,-0.031],[0.869,-0.067],
      [0.872,-0.060],[0.875,-0.053],[0.878,-0.088],[0.880,-0.066],[0.883,-0.061],[0.886,-0.089],[0.889,-0.110],[0.891,-0.077],[0.894,-0.093],[0.897,-0.111],
      [0.900,-0.096],[0.903,-0.086],[0.905,-0.116],[0.908,-0.132],[0.911,-0.111],[0.914,-0.093],[0.916,-0.134],[0.919,-0.130],[0.922,-0.110],[0.925,-0.155],
      [0.927,-0.128],[0.930,-0.153],[0.933,-0.129],[0.936,-0.170],[0.938,-0.144],[0.941,-0.127],[0.944,-0.163],[0.947,-0.173],[0.949,-0.160],[0.952,-0.146],
      [0.955,-0.171],[0.958,-0.159],[0.960,-0.161],[0.963,-0.191],[0.966,-0.171],[0.969,-0.156],[0.971,-0.185],[0.974,-0.205],[0.977,-0.167],[0.977,-0.214],
      [0.980,-0.183],[0.982,-0.195],[0.985,-0.154],[0.988,-0.184],[0.991,-0.171],[0.993,-0.198],[0.996,-0.160],[0.999,-0.185]
    ];

    var resid0More = [
      [0.0015,-0.180],[0.0054,-0.151],[0.0093,-0.173],[0.0131,-0.191],[0.0170,-0.156],[0.0209,-0.164],[0.0248,-0.183],[0.0286,-0.142],[0.0325,-0.177],[0.0364,-0.165],
      [0.0403,-0.148],[0.0441,-0.190],[0.0480,-0.154],[0.0519,-0.165],[0.0558,-0.135],[0.0596,-0.173],[0.0635,-0.143],[0.0674,-0.152],[0.0713,-0.162],[0.0751,-0.119],
      [0.0790,-0.152],[0.0829,-0.130],[0.0868,-0.164],[0.0906,-0.137],[0.0945,-0.120],[0.0984,-0.147],[0.1023,-0.160],[0.1061,-0.125],[0.1100,-0.132],[0.1139,-0.109],
      [0.1178,-0.146],[0.1216,-0.122],[0.1255,-0.132],[0.1294,-0.104],[0.1333,-0.142],[0.1371,-0.117],[0.1410,-0.148],[0.1449,-0.113],[0.1488,-0.156],[0.1526,-0.127],
      [0.1565,-0.115],[0.1604,-0.136],[0.1643,-0.098],[0.1681,-0.125],[0.1720,-0.133],[0.1759,-0.108],[0.1798,-0.092],[0.1836,-0.120],[0.1875,-0.101],[0.1914,-0.126],
      [0.1953,-0.105],[0.1991,-0.082],[0.2030,-0.095],[0.2069,-0.105],[0.2108,-0.079],[0.2146,-0.082],[0.2185,-0.094],[0.2224,-0.062],[0.2263,-0.086],[0.2301,-0.074],
      [0.2340,-0.061],[0.2379,-0.089],[0.2418,-0.062],[0.2456,-0.069],[0.2495,-0.046],[0.2534,-0.073],[0.2573,-0.050],[0.2611,-0.056],[0.2650,-0.061],[0.2689,-0.030],
      [0.2728,-0.052],[0.2766,-0.034],[0.2805,-0.058],[0.2844,-0.037],[0.2883,-0.024],[0.2921,-0.041],[0.2960,-0.050],[0.2999,-0.023],[0.3038,-0.026],[0.3076,-0.009],
      [0.3115,-0.033],[0.3154,-0.015],[0.3193,-0.019],[0.3231,0.003],[0.3270,-0.021],[0.3309,0.000],[0.3348,-0.020],[0.3386,0.008],[0.3425,-0.021],[0.3464,0.003],
      [0.3503,0.011],[0.3541,-0.002],[0.3580,0.026],[0.3619,0.007],[0.3658,0.000],[0.3696,0.019],[0.3735,0.030],[0.3774,0.010],[0.3813,0.024],[0.3851,0.006],
      [0.3890,0.019],[0.3929,0.042],[0.3968,0.028],[0.4006,0.017],[0.4045,0.044],[0.4084,0.040],[0.4123,0.028],[0.4161,0.060],[0.4200,0.036],[0.4239,0.047],
      [0.4278,0.061],[0.4316,0.032],[0.4355,0.058],[0.4394,0.052],[0.4433,0.074],[0.4471,0.047],[0.4510,0.070],[0.4549,0.064],[0.4588,0.058],[0.4626,0.090],
      [0.4665,0.067],[0.4704,0.084],[0.4743,0.061],[0.4781,0.081],[0.4820,0.094],[0.4859,0.077],[0.4898,0.068],[0.4936,0.094],[0.4975,0.091],[0.5014,0.108],
      [0.5053,0.083],[0.5091,0.101],[0.5130,0.097],[0.5169,0.119],[0.5208,0.094],[0.5246,0.115],[0.5285,0.095],[0.5324,0.122],[0.5363,0.094],[0.5401,0.117],
      [0.5440,0.127],[0.5479,0.115],[0.5518,0.153],[0.5556,0.121],[0.5595,0.108],[0.5634,0.136],[0.5673,0.151],[0.5711,0.118],[0.5750,0.138],[0.5789,0.107],
      [0.5828,0.129],[0.5866,0.166],[0.5905,0.146],[0.5944,0.130],[0.5983,0.174],[0.6021,0.170],[0.6060,0.154],[0.6099,0.207],[0.6138,0.171],[0.6176,0.192],
      [0.6215,0.215],[0.6254,0.173],[0.6293,0.217],[0.6331,0.207],[0.6370,0.243],[0.6409,0.201],[0.6448,0.237],[0.6486,0.228],[0.6525,0.220],[0.6564,0.268],
      [0.6603,0.231],[0.6641,0.257],[0.6680,0.218],[0.6719,0.247],[0.6758,0.263],[0.6796,0.228],[0.6835,0.208],[0.6874,0.245],[0.6913,0.233],[0.6951,0.255],
      [0.6990,0.210],[0.7029,0.231],[0.7068,0.217],[0.7106,0.245],[0.7145,0.199],[0.7184,0.224],[0.7223,0.182],[0.7261,0.215],[0.7300,0.158],[0.7339,0.186],
      [0.7378,0.191],[0.7416,0.161],[0.7455,0.194],[0.7494,0.159],[0.7533,0.142],[0.7571,0.156],[0.7610,0.161],[0.7649,0.128],[0.7688,0.136],[0.7726,0.107],
      [0.7765,0.114],[0.7804,0.132],[0.7843,0.105],[0.7881,0.082],[0.7920,0.103],[0.7959,0.088],[0.7998,0.063],[0.8036,0.090],[0.8075,0.050],[0.8114,0.053],
      [0.8153,0.058],[0.8191,0.013],[0.8230,0.034],[0.8269,0.014],[0.8308,0.030],[0.8346,-0.011],[0.8385,0.006],[0.8424,-0.010],[0.8463,-0.027],[0.8501,0.002],
      [0.8540,-0.035],[0.8579,-0.024],[0.8618,-0.062],[0.8656,-0.047],[0.8695,-0.039],[0.8734,-0.069],[0.8773,-0.090],[0.8811,-0.067],[0.8850,-0.080],[0.8889,-0.068],
      [0.8928,-0.109],[0.8966,-0.092],[0.9005,-0.109],[0.9044,-0.085],[0.9083,-0.128],[0.9121,-0.108],[0.9160,-0.143],[0.9199,-0.113],[0.9238,-0.161],[0.9276,-0.136],
      [0.9315,-0.128],[0.9354,-0.154],[0.9393,-0.123],[0.9431,-0.157],[0.9470,-0.173],[0.9509,-0.155],[0.9548,-0.146],[0.9586,-0.182],[0.9625,-0.169],[0.9664,-0.199],
      [0.9703,-0.185],[0.9741,-0.159],[0.9780,-0.184],[0.9819,-0.204],[0.9858,-0.168],[0.9896,-0.175],[0.9935,-0.193],[0.9974,-0.151]
    ];

    var phaseTicks = [0.0, 0.5, 1.0, 1.5];
    var ogleTicks = [15.1, 15.3, 15.5, 15.7];
    var ogleMinor = [15.2, 15.4, 15.6, 15.8];
    var resid1Ticks = [-0.04, 0.00, 0.04, 0.08];
    var resid1Minor = [-0.08, -0.06, -0.02, 0.02, 0.06];
    var resid0Ticks = [-0.4, -0.2, 0.0, 0.2];
    var resid0Minor = [-0.3, -0.1, 0.1, 0.3];

    var width = 730, height = 973;
    var left = 88, right = 705.5;

    var svg = d3.select("body").append("svg")
        .attr("width", width)
        .attr("height", height);

    var x = d3.scaleLinear().domain([-0.01, 1.5]).range([left, right]);

    var panels = [
      {data: ogleData.concat(ogleMore), top: 44.3, bottom: 327.7, domain: [15.012, 15.872], major: ogleTicks, minor: ogleMinor, fmt: d3.format(".1f"), dy: 10.5},
      {data: resid1Data.concat(resid1More), top: 333.3, bottom: 616.7, domain: [-0.0966, 0.0959], major: resid1Ticks, minor: resid1Minor, fmt: d3.format(".2f"), dy: 8.8},
      {data: resid0Data.concat(resid0More), top: 623.3, bottom: 906, domain: [-0.5045, 0.399], major: resid0Ticks, minor: resid0Minor, fmt: d3.format(".1f"), dy: 9.2}
    ];

    // text with sub/superscripts and bold serif f's
    var richText = function(g, px, py, parts, size) {
        var t = g.append("text").attr("x", px).attr("y", py)
            .attr("font-size", size).attr("font-style", "italic");
        var shift = 0;
        parts.forEach(function(p) {
            var target = p[1] == "sub" ? size * 0.14 : (p[1] == "sup" ? -size * 0.33 : 0);
            var s = t.append("tspan").text(p[0]).attr("dy", target - shift);
            shift = target;
            if (p[1] == "sub") s.attr("font-size", size * 0.66);
            if (p[1] == "sup") s.attr("font-size", size * 0.62);
            if (p[1] == "f") s.attr("font-family", "'Liberation Serif', 'Times New Roman', serif")
                .attr("font-weight", "bold").attr("font-size", size * 1.08);
        });
        return t;
    }

    panels.forEach(function(p, i) {
        var y = d3.scaleLinear().domain(p.domain).range([p.top, p.bottom]);
        var g = svg.append("g");

        g.append("clipPath").attr("id", "clip" + i)
          .append("rect").attr("x", left).attr("y", p.top)
          .attr("width", right - left).attr("height", p.bottom - p.top);

        // second cycle: phase 1.0 - 1.5 repeats the same points
        var pts = p.data.concat(p.data.filter(function(d) { return d[0] + 1 <= 1.5; })
                                      .map(function(d) { return [d[0] + 1, d[1]]; }));

        g.append("g").attr("clip-path", "url(#clip" + i + ")")
          .selectAll("rect")
          .data(pts)
          .enter().append("rect")
          .attr("class", "dot")
          .attr("x", function(d) { return x(d[0]) - 1.2; })
          .attr("y", function(d) { return y(d[1]) - 1.2; })
          .attr("width", 2.4)
          .attr("height", 2.4);

        var ya = g.append("g").attr("class", "axis")
          .attr("transform", "translate(" + left + ",0)")
          .call(d3.axisLeft(y).tickValues(p.major).tickFormat(p.fmt)
                .tickSizeInner(-5).tickSizeOuter(0).tickPadding(11));
        ya.select(".domain").remove();
        ya.attr("font-size", null).attr("font-family", null);
        ya.selectAll("text").attr("font-size", 24).attr("dy", p.dy);

        var ym = g.append("g").attr("class", "axis")
          .attr("transform", "translate(" + left + ",0)")
          .call(d3.axisLeft(y).tickValues(p.minor).tickFormat("")
                .tickSizeInner(-5).tickSizeOuter(0));
        ym.select(".domain").remove();

        var xa = g.append("g").attr("class", "axis")
          .attr("transform", "translate(0," + p.bottom + ")")
          .call(d3.axisBottom(x).tickValues(phaseTicks)
                .tickFormat(i == 2 ? d3.format(".1f") : "")
                .tickSizeInner(-5).tickSizeOuter(0).tickPadding(17));
        xa.select(".domain").remove();
        xa.attr("font-size", null).attr("font-family", null);
        xa.selectAll("text").attr("font-size", 24).attr("dy", "0.71em");

        g.append("rect").attr("class", "frame")
          .attr("x", left).attr("y", p.top)
          .attr("width", right - left).attr("height", p.bottom - p.top);
    });

    // panel annotations
    richText(svg, 143, 85.5, [["OGLE data", ""]], 29);
    richText(svg, 477, 307, [["P", ""], ["0", "sub"], [" = 1", ""], ["d", "sup"], [".18129", ""]], 29);

    var fTitle = function(firstSub) {
        return [["(OGLE data) \u2212 ", ""], ["f", "f"], [firstSub, "sub"], ["\u2212 (", ""], ["f", "f"], ["1", "sub"],
                ["+", ""], ["f", "f"], ["0", "sub"], [") \u2212 \u2026 \u2212 5", ""], ["f", "f"], ["0", "sub"]];
    }
    richText(svg, 143, 373, fTitle("0"), 29);
    richText(svg, 477, 593, [["P", ""], ["1", "sub"], [" = 0", ""], ["d", "sup"], [".832980", ""]], 29);

    richText(svg, 143, 663, fTitle("1"), 29);
    richText(svg, 477, 884.5, [["P", ""], ["0", "sub"], [" = 1", ""], ["d", "sup"], [".18129", ""]], 29);

    // axis labels
    var lab1 = svg.append("text").attr("x", 45).attr("y", 37).attr("font-size", 24).attr("font-style", "italic");
    lab1.append("tspan").text("I");
    lab1.append("tspan").text("C").attr("font-size", 17).attr("dy", 1.5);

    var lab2 = svg.append("text").attr("x", 27).attr("y", 361).attr("font-size", 24);
    lab2.append("tspan").text("\u0394");
    lab2.append("tspan").text("I").attr("font-style", "italic");
    lab2.append("tspan").text("C").attr("font-style", "italic").attr("font-size", 17).attr("dy", 1.5);

    svg.append("text").attr("x", 721).attr("y", 968).attr("text-anchor", "end")
      .attr("font-size", 28).attr("font-style", "italic").text("Phase");

</script>

</body>
</html>
